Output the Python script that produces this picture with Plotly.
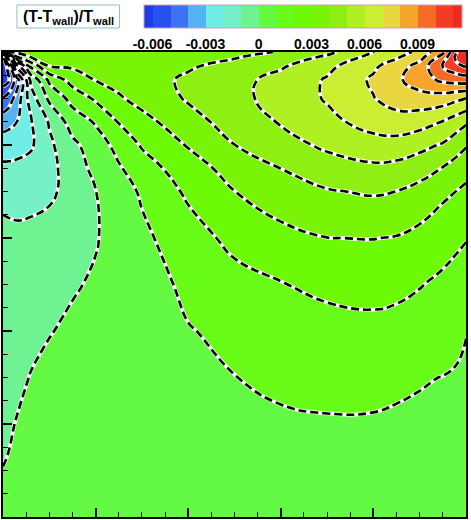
import plotly.graph_objects as go

# ---- grid nodes (data coordinates, 0..1 in both directions) ----
x_nodes = [0, 0.01, 0.03, 0.06, 0.1, 0.15, 0.2, 0.25, 0.3, 0.4, 0.5, 0.6, 0.7, 0.8, 0.85, 0.9, 0.95, 0.98, 1.0]
y_nodes = [0, 0.1, 0.2, 0.3, 0.4, 0.5, 0.6, 0.7, 0.75, 0.8, 0.85, 0.9, 0.94, 0.97, 0.99, 1.0]

# ---- (T-Twall)/Twall, one row per y node ----
row_y000 = [0.0002, 0.0002, 0.00022, 0.00025, 0.0003, 0.00033, 0.00036, 0.0004, 0.00042, 0.00047, 0.0005, 0.00053, 0.00055, 0.00055, 0.00055, 0.00054, 0.00053, 0.00052, 0.00052]
row_y010 = [0.00002, 0.00006, 0.00013, 0.0002, 0.0003, 0.0004, 0.00047, 0.00053, 0.00058, 0.00066, 0.00072, 0.00076, 0.00078, 0.00078, 0.00077, 0.00075, 0.00073, 0.00072, 0.00072]
row_y020 = [-0.0002, -0.00012, 0.00004, 0.00018, 0.0003, 0.00042, 0.00052, 0.0006, 0.00067, 0.00078, 0.00087, 0.00092, 0.00095, 0.00095, 0.00093, 0.0009, 0.00089, 0.00088, 0.00088]
row_y030 = [-0.0004, -0.00032, -0.00018, 0.00003, 0.00022, 0.0004, 0.00053, 0.00063, 0.00071, 0.00086, 0.00099, 0.00111, 0.00117, 0.00115, 0.00109, 0.00104, 0.00099, 0.00096, 0.00095]
row_y040 = [-0.0005, -0.00045, -0.00035, -0.0002, -0.00004, 0.00015, 0.0004, 0.00057, 0.0007, 0.00096, 0.00118, 0.00138, 0.0016, 0.0017, 0.00165, 0.00152, 0.0013, 0.0011, 0.00101]
row_y050 = [-0.0006, -0.00057, -0.0005, -0.0004, -0.00025, -0.00008, 0.0001, 0.00033, 0.00062, 0.00118, 0.00163, 0.00195, 0.00225, 0.00235, 0.00225, 0.00205, 0.0018, 0.0016, 0.0015]
row_y060 = [-0.0008, -0.0008, -0.00082, -0.00075, -0.00055, -0.0003, -0.00006, 0.00036, 0.0008, 0.00155, 0.00229, 0.0027, 0.00299, 0.00302, 0.00295, 0.0027, 0.0024, 0.0022, 0.00205]
row_y070 = [-0.0012, -0.00125, -0.0013, -0.0013, -0.0012, -0.00061, -0.00002, 0.00058, 0.00112, 0.00218, 0.00299, 0.00355, 0.00393, 0.0041, 0.00399, 0.0037, 0.0032, 0.00298, 0.0028]
row_y075 = [-0.0018, -0.0018, -0.00175, -0.0016, -0.0013, -0.0005, 0.00026, 0.0009, 0.00152, 0.00259, 0.00336, 0.00401, 0.0045, 0.0048, 0.0047, 0.0044, 0.00396, 0.0036, 0.00335]
row_y080 = [-0.0025, -0.00248, -0.0024, -0.00215, -0.0012, -0.00024, 0.00054, 0.0013, 0.0021, 0.00307, 0.00399, 0.0046, 0.0052, 0.0056, 0.0056, 0.0053, 0.0049, 0.0044, 0.00408]
row_y085 = [-0.0034, -0.0033, -0.003, -0.0021, -0.0009, 0.00045, 0.0011, 0.00206, 0.00267, 0.00364, 0.0044, 0.00508, 0.00573, 0.0064, 0.0066, 0.0064, 0.00596, 0.0055, 0.00515]
row_y090 = [-0.0049, -0.0046, -0.0036, -0.0015, 0.0002, 0.00133, 0.00215, 0.00288, 0.00334, 0.0041, 0.00471, 0.00537, 0.00609, 0.00696, 0.0074, 0.0076, 0.0075, 0.0072, 0.00698]
row_y094 = [-0.0066, -0.0063, -0.0045, -0.0008, 0.0012, 0.0024, 0.00304, 0.00332, 0.0036, 0.00416, 0.00469, 0.00532, 0.00609, 0.00715, 0.00781, 0.00852, 0.0092, 0.0094, 0.0095]
row_y097 = [-0.0068, -0.0058, -0.0015, 0.0013, 0.00302, 0.00316, 0.0033, 0.00345, 0.0036, 0.00388, 0.00433, 0.00487, 0.00574, 0.00682, 0.00749, 0.00835, 0.0101, 0.0108, 0.0111]
row_y099 = [-0.0064, -0.0025, 0.002, 0.0031, 0.00318, 0.00325, 0.00332, 0.0034, 0.00348, 0.00365, 0.0039, 0.00444, 0.00512, 0.00629, 0.00684, 0.00763, 0.00933, 0.0113, 0.0122]
row_y100 = [-0.0062, 0.0032, 0.00322, 0.00325, 0.0033, 0.00335, 0.0034, 0.00346, 0.00352, 0.00368, 0.0039, 0.00402, 0.00475, 0.00598, 0.00656, 0.00723, 0.0088, 0.0109, 0.0125]

z_field = [row_y000, row_y010, row_y020, row_y030, row_y040, row_y050, row_y060, row_y070,
           row_y075, row_y080, row_y085, row_y090, row_y094, row_y097, row_y099, row_y100]

# ---- contour levels and legend ----
level_start = -0.006
level_end = 0.011
level_step = 0.001
legend_min = -0.0065
legend_max = 0.0115
band_colors = ["#1c3ce6", "#2850f0", "#3a74f2", "#52b2f2", "#6eeee6", "#76f0c6", "#6ef292",
               "#64fa44", "#68fc18", "#6cfa06", "#7af406", "#8ef012", "#aef022", "#ccee32",
               "#ead640", "#f7a42c", "#f76a26", "#f43c22", "#f02a20"]
cbar_tick_values = [-0.006, -0.003, 0, 0.003, 0.006, 0.009]
cbar_tick_labels = ["-0.006", "-0.003", "0", "0.003", "0.006", "0.009"]
major_ticks = [0.2, 0.4, 0.6, 0.8]
minor_ticks = [0.05, 0.1, 0.15, 0.25, 0.3, 0.35, 0.45, 0.5, 0.55, 0.65, 0.7, 0.75, 0.85, 0.9, 0.95]
legend_title = "<b>(T-T<sub>wall</sub>)/T<sub>wall</sub></b>"

n = len(band_colors) - 1
colorscale = [[k / n, c] for k, c in enumerate(band_colors)]
contour_def = dict(start=level_start, end=level_end, size=level_step)

W, H = 471, 520
ML, MR, MT, MB = 3, 3, 52, 3
PW, PH = W - ML - MR, H - MT - MB


def px2paper_x(px):
    return (px - ML) / PW


def py2paper_y(py):
    return (H - MB - py) / PH


fig = go.Figure()

fig.add_trace(go.Contour(
    x=x_nodes, y=y_nodes, z=z_field,
    zauto=False, zmin=legend_min, zmax=legend_max,
    autocontour=False,
    contours=dict(**contour_def, coloring="fill", showlines=False),
    colorscale=colorscale,
    line=dict(width=0, smoothing=1.3),
    hoverinfo="skip",
    colorbar=dict(
        orientation="h",
        x=px2paper_x(304), xanchor="center",
        y=py2paper_y(5), yanchor="top",
        len=318, lenmode="pixels",
        thickness=23, thicknessmode="pixels",
        xpad=0, ypad=0,
        outlinewidth=1, outlinecolor="#c9a0b6",
        tickmode="array", tickvals=cbar_tick_values, ticktext=cbar_tick_labels,
        ticks="outside", ticklen=4, tickcolor="rgba(0,0,0,0)",
        tickfont=dict(family="Liberation Sans", size=14, color="black", weight="bold"),
    ),
))

# white halo under the dashed isolines
fig.add_trace(go.Contour(
    x=x_nodes, y=y_nodes, z=z_field,
    autocontour=False,
    contours=dict(**contour_def, coloring="none", showlines=True),
    line=dict(color="white", width=3.8, smoothing=1.3),
    showscale=False, hoverinfo="skip",
))
# dashed black isolines
fig.add_trace(go.Contour(
    x=x_nodes, y=y_nodes, z=z_field,
    autocontour=False,
    contours=dict(**contour_def, coloring="none", showlines=True),
    line=dict(color="black", width=2.6, dash="8px,4px", smoothing=1.3),
    showscale=False, hoverinfo="skip",
))

axis_common = dict(
    range=[0, 1], showgrid=False, zeroline=False, showticklabels=False,
    ticks="inside", tickmode="array", tickvals=major_ticks, ticklen=9, tickwidth=2, tickcolor="black",
    minor=dict(tickmode="array", tickvals=minor_ticks, ticks="inside", ticklen=5, tickwidth=1, tickcolor="black"),
    showline=True, mirror=True, linecolor="black", linewidth=2,
)

fig.update_layout(
    width=W, height=H,
    margin=dict(l=ML, r=MR, t=MT, b=MB),
    paper_bgcolor="white", plot_bgcolor="white",
    xaxis=axis_common, yaxis=axis_common,
    showlegend=False,
    shapes=[dict(
        type="rect", xref="paper", yref="paper",
        x0=px2paper_x(17), x1=px2paper_x(120), y0=py2paper_y(28), y1=py2paper_y(5),
        line=dict(color="#8fbfcf", width=1), fillcolor="white", layer="above",
    )],
    annotations=[dict(
        text=legend_title,
        x=px2paper_x(69), y=py2paper_y(17), xref="paper", yref="paper",
        xanchor="center", yanchor="middle", showarrow=False,
        font=dict(family="Liberation Sans", size=16, color="black"),
    )],
)

fig.write_html("out.html", config={"displayModeBar": False},
               post_script="document.body.style.margin='0';document.body.style.overflow='hidden';")
